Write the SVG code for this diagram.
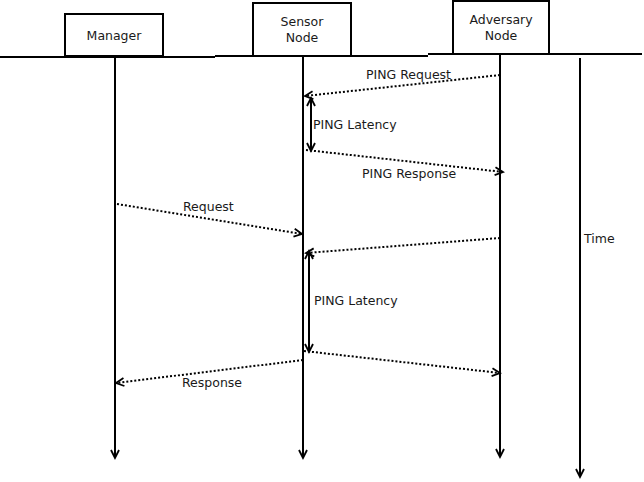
<svg xmlns="http://www.w3.org/2000/svg" width="644" height="482" viewBox="0 0 644 482">
<style>
.box{fill:#fff;stroke:#000;stroke-width:2}
.t{font-family:"DejaVu Sans",sans-serif;font-size:12.5px;fill:#1a1a1a}
.m{text-anchor:middle}
.life{stroke:#000;stroke-width:2;fill:none}
.dot{stroke:#000;stroke-width:2;stroke-dasharray:2,2;fill:none}
.sol{stroke:#000;stroke-width:2;fill:none}
</style>
<defs>
<marker id="a" markerWidth="12" markerHeight="12" refX="10" refY="5" orient="auto" markerUnits="userSpaceOnUse" viewBox="0 0 12 10">
<polyline points="2,1 10,5 2,9" fill="none" stroke="#000" stroke-width="1.8"/>
</marker>
<marker id="as" markerWidth="12" markerHeight="12" refX="10" refY="5" orient="auto-start-reverse" markerUnits="userSpaceOnUse" viewBox="0 0 12 10">
<polyline points="2,1 10,5 2,9" fill="none" stroke="#000" stroke-width="1.8"/>
</marker>
</defs>
<g id="baseline">
<line x1="0" y1="57" x2="215" y2="57" class="life"/>
<line x1="215" y1="56" x2="428" y2="56" class="life"/>
<line x1="428" y1="54" x2="642" y2="54" class="life"/>
</g>
<g id="manager">
<rect x="65" y="14" width="98" height="42" class="box"/>
<text x="114" y="40" class="t m">Manager</text>
</g>
<g id="sensor">
<rect x="253" y="3" width="98" height="53" class="box"/>
<text x="302" y="26" class="t m">Sensor</text>
<text x="302" y="42" class="t m">Node</text>
</g>
<g id="adversary">
<rect x="453" y="1" width="96" height="53" class="box"/>
<text x="501" y="24" class="t m">Adversary</text>
<text x="501" y="40" class="t m">Node</text>
</g>
<g id="connectors">
<line x1="115" y1="57" x2="115" y2="458" class="life" marker-end="url(#a)"/>
<line x1="303" y1="56" x2="303" y2="458" class="life" marker-end="url(#a)"/>
<line x1="500" y1="54" x2="500" y2="457" class="life" marker-end="url(#a)"/>
<line x1="580" y1="58" x2="580" y2="477" class="life" marker-end="url(#a)"/>
<line x1="500" y1="75" x2="305" y2="96" class="dot" marker-end="url(#a)"/>
<line x1="311" y1="98" x2="311" y2="151" class="sol" marker-start="url(#as)" marker-end="url(#as)"/>
<line x1="306" y1="150" x2="503" y2="172" class="dot" marker-end="url(#a)"/>
<line x1="117" y1="204" x2="302" y2="234" class="dot" marker-end="url(#a)"/>
<line x1="500" y1="238" x2="306" y2="253" class="dot" marker-end="url(#a)"/>
<line x1="309" y1="251" x2="309" y2="352" class="sol" marker-start="url(#as)" marker-end="url(#as)"/>
<line x1="304" y1="351" x2="500" y2="373" class="dot" marker-end="url(#a)"/>
<line x1="303" y1="360" x2="116" y2="383" class="dot" marker-end="url(#a)"/>
</g>
<g id="labels">
<text x="366" y="79" class="t">PING Request</text>
<text x="313" y="129" class="t">PING Latency</text>
<text x="362" y="178" class="t">PING Response</text>
<text x="183" y="211" class="t">Request</text>
<text x="584" y="243" class="t">Time</text>
<text x="314" y="305" class="t">PING Latency</text>
<text x="182" y="387" class="t">Response</text>
</g>
</svg>
